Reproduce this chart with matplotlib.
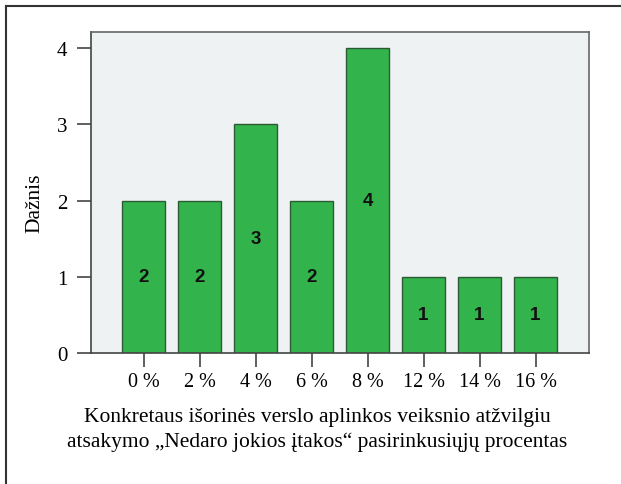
import matplotlib
matplotlib.use("Agg")
import matplotlib.pyplot as plt
from matplotlib.lines import Line2D

categories = ["0 %", "2 %", "4 %", "6 %", "8 %", "12 %", "14 %", "16 %"]
counts = [2, 2, 3, 2, 4, 1, 1, 1]
yticks = [0, 1, 2, 3, 4]
ylabel = "Dažnis"
xlabel = ("Konkretaus išorinės verslo aplinkos veiksnio atžvilgiu\n"
          "atsakymo „Nedaro jokios įtakos“ pasirinkusiųjų procentas")

plt.rcParams["font.family"] = ["Liberation Serif", "DejaVu Serif"]

fig = plt.figure(figsize=(6.21, 4.85), dpi=100)
ax = fig.add_axes([91 / 621, 1 - 354 / 485, (589 - 91) / 621, (354 - 33) / 485])
ax.set_facecolor("#eff2f3")

xs = list(range(len(categories)))
bars = ax.bar(xs, counts, width=0.77, color="#33b34b", edgecolor="#2c5a34", linewidth=1.0, zorder=2)
for x, c in zip(xs, counts):
    ax.text(x, c / 2, str(c), ha="center", va="center", fontsize=13.5,
            fontweight="bold", family=["Liberation Sans", "DejaVu Sans"], color="#111111", zorder=3)

ax.set_xlim(-0.9375, 7.955)
ax.set_ylim(0, 4.21)
ax.set_xticks(xs)
ax.set_xticklabels(categories, fontsize=14.5)
ax.set_yticks(yticks)
ax.set_yticklabels([str(t) for t in yticks], fontsize=15)
ax.tick_params(axis="both", direction="out", length=10, width=1.2, color="#444444", pad=7)
ax.tick_params(axis="x", pad=4)
for s in ax.spines.values():
    s.set_color("#666666")
    s.set_linewidth(1.2)
ax.spines["bottom"].set_color("#444444")
ax.spines["left"].set_color("#444444")

fig.text(35 / 621, 1 - 203 / 485, ylabel, rotation=90, ha="center", va="center", fontsize=15.5)
fig.text(317 / 621, 1 - 430 / 485, xlabel, ha="center", va="center", fontsize=15.5, linespacing=1.45)

# frame around the figure (only top and left edges visible)
fig.add_artist(Line2D([6 / 621, 6 / 621], [0, 1 - 7 / 485], transform=fig.transFigure, color="#333333", lw=1.5))
fig.add_artist(Line2D([6 / 621, 1], [1 - 7 / 485, 1 - 7 / 485], transform=fig.transFigure, color="#333333", lw=1.5))

fig.savefig("out.png", dpi=100)
